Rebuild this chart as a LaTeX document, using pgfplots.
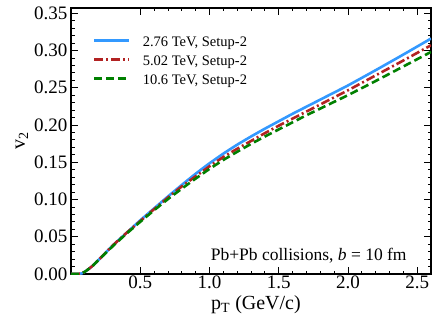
\documentclass[border=0pt]{standalone}
\usepackage{pgfplots}
\pgfplotsset{compat=1.18}
\usetikzlibrary{calc}
\usepackage{fontspec}
\setmainfont{Liberation Serif}
\definecolor{cblue}{RGB}{51,153,255}
\definecolor{cred}{RGB}{178,34,34}
\definecolor{cgreen}{RGB}{0,128,0}
\begin{document}
\begin{tikzpicture}
\begin{axis}[
  scale only axis,
  width=360pt, height=266pt,
  xmin=0, xmax=2.6, ymin=0, ymax=0.357,
  axis line style={line width=1.6pt},
  tick style={black, line width=0.8pt},
  tick align=inside,
  major tick length=7pt, minor tick length=3.5pt,
  xtick={0.5,1.0,1.5,2.0,2.5},
  ytick={0,0.05,0.10,0.15,0.20,0.25,0.30,0.35},
  minor x tick num=4, minor y tick num=4,
  x tick label style={yshift=2pt},
  xticklabel style={/pgf/number format/.cd,fixed,fixed zerofill,precision=1},
  yticklabel style={/pgf/number format/.cd,fixed,fixed zerofill,precision=2},
  /pgf/number format/assume math mode=true,
  tick label style={font=\fontsize{19}{23}\selectfont},
  xlabel={p\textsubscript{T} (GeV/c)},
  ylabel={v\textsubscript{2}},
  label style={font=\fontsize{20}{24}\selectfont},
  xlabel style={at={(rel axis cs:0.5,0)}, anchor=base, yshift=-35pt, xshift=5pt},
  ylabel style={at={(rel axis cs:0,0.5)}, anchor=base, yshift=46pt},
  legend style={draw=none, fill=none, inner sep=0pt, at={(0.061,0.892)}, anchor=north west,
    font=\fontsize{14.5}{17}\selectfont, row sep=6pt,
    nodes={inner sep=0pt, text height=10pt, text depth=3pt},
    legend cell align=left,
    /tikz/every odd column/.append style={column sep=12pt}},
  legend image code/.code={\draw[#1] (0pt,3pt) -- (35pt,3pt);},
]
\addplot[cblue, line width=2.6pt, smooth, tension=0.3] coordinates {
(0,0) (0.05,0.0) (0.08,0.001) (0.1,0.003) (0.15,0.010) (0.2,0.019) (0.3,0.038) (0.4,0.055)
(0.5,0.072) (0.6,0.088) (0.7,0.104) (0.8,0.1195) (0.9,0.1345) (1.0,0.1485) (1.1,0.1615)
(1.2,0.1735) (1.3,0.1845) (1.4,0.195) (1.5,0.205) (1.6,0.215) (1.7,0.2245) (1.8,0.234)
(1.9,0.2435) (2.0,0.253) (2.2,0.2735) (2.4,0.2945) (2.6,0.316)};
\addlegendentry{2.76 TeV, Setup-2}
\addplot[cred, line width=2.6pt, smooth, tension=0.3, dash pattern=on 9pt off 3pt on 2pt off 3pt] coordinates {
(0,0) (0.05,0.0) (0.08,0.001) (0.1,0.003) (0.15,0.010) (0.2,0.019) (0.3,0.038) (0.4,0.055)
(0.5,0.071) (0.6,0.087) (0.7,0.1025) (0.8,0.1175) (0.9,0.131) (1.0,0.1445) (1.1,0.157)
(1.2,0.168) (1.3,0.1785) (1.4,0.189) (1.5,0.199) (1.6,0.2085) (1.7,0.218) (1.8,0.2275)
(1.9,0.237) (2.0,0.2465) (2.2,0.2665) (2.4,0.2865) (2.6,0.307)};
\addlegendentry{5.02 TeV, Setup-2}
\addplot[cgreen, line width=2.6pt, smooth, tension=0.3, dash pattern=on 8pt off 4pt] coordinates {
(0,0) (0.05,0.0) (0.08,0.001) (0.1,0.003) (0.15,0.010) (0.2,0.019) (0.3,0.037) (0.4,0.054)
(0.5,0.070) (0.6,0.0855) (0.7,0.1005) (0.8,0.1145) (0.9,0.128) (1.0,0.141) (1.1,0.153)
(1.2,0.164) (1.3,0.1745) (1.4,0.1845) (1.5,0.194) (1.6,0.2035) (1.7,0.213) (1.8,0.222)
(1.9,0.231) (2.0,0.240) (2.2,0.259) (2.4,0.2785) (2.6,0.298)};
\addlegendentry{10.6 TeV, Setup-2}
\node[anchor=base east, font=\fontsize{17.5}{21}\selectfont] at (rel axis cs:0.942,0.05) {Pb+Pb collisions, \textit{b} = 10 fm};
\end{axis}
\pgfresetboundingbox
\useasboundingbox ($(current axis.south west)+(-71pt,-53pt)$) rectangle ($(current axis.north east)+(5pt,8pt)$);
\end{tikzpicture}
\end{document}
